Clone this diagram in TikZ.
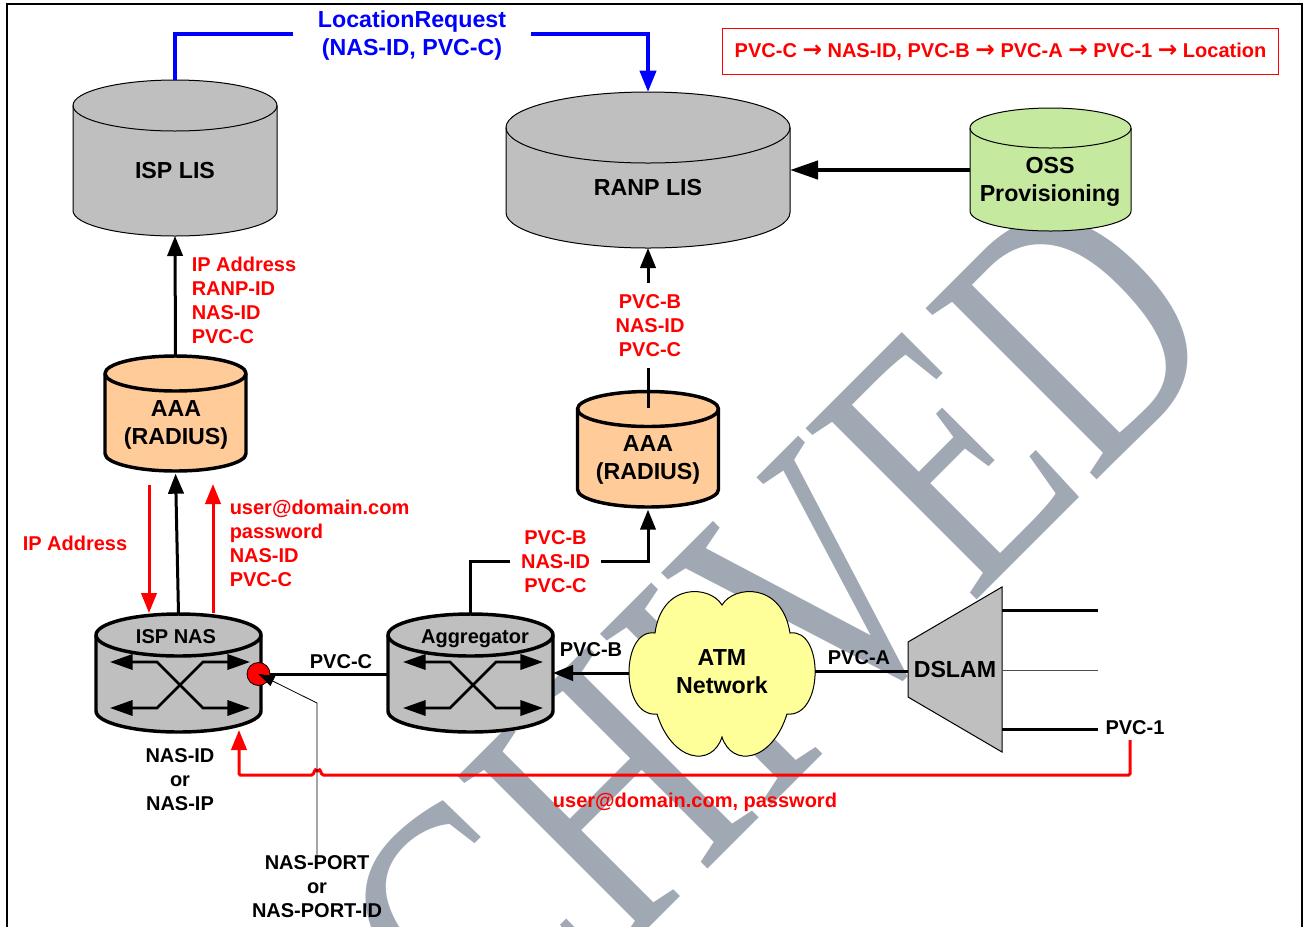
\documentclass[tikz,border=0pt]{standalone}
\usepackage{fontspec}
\setmainfont{Liberation Sans}
\newfontfamily\wmfont{Liberation Serif}
\newfontfamily\arrowfont{DejaVu Sans Bold}
\usetikzlibrary{arrows.meta}
\definecolor{dbgray}{HTML}{BFBFBF}
\definecolor{dborange}{HTML}{FFCC99}
\definecolor{dbgreen}{HTML}{C6E9A0}
\definecolor{atmyellow}{HTML}{FFFF99}
\definecolor{wmgray}{HTML}{A0A8B3}
\tikzset{
    dbthin/.style={draw=black, line width=0.75pt, fill=dbgray},
    dbthick/.style={draw=black, line width=2.6pt, fill=dbgray},
    txtbig/.style={font={\fontsize{17.4}{21}\selectfont\bfseries}, align=center, inner sep=0pt},
    txtsmall/.style={font={\fontsize{15}{18}\selectfont\bfseries}, align=center, inner sep=0pt},
    txtred/.style={txtsmall, text=red},
    txtredleft/.style={txtred, align=left, anchor=west},
    wmtext/.style={transform shape, anchor=base west, inner sep=0pt, text=wmgray,
                   font={\fontsize{264}{264}\selectfont\wmfont}},
    wline/.style={line width=2.25pt, draw=black},
    arrow/.style={-{Triangle[length=15pt,width=11.5pt]}, line width=2.25pt, draw=black},
    redarrow/.style={arrow, draw=red},
    bluearrow/.style={-{Triangle[length=16pt,width=12pt]}, line width=3pt, draw=blue},
    swline/.style={line width=1.9pt, {Triangle[length=17pt,width=11.5pt]}-{Triangle[length=17pt,width=11.5pt]}},
    crossx/.pic={
        \draw[swline] (-70,-23) -- (-23,-23) -- (23,23) -- (70,23);
        \draw[swline] (-70,23) -- (-23,23) -- (23,-23) -- (70,-23);
    },
}
% style, name, centre x, top y, bottom y, x radius, y radius (pixels)
\newcommand{\dbcylinder}[7]{%
    \pgfmathsetmacro{\rxpt}{#6*0.75}%
    \pgfmathsetmacro{\rypt}{#7*0.75}%
    \pgfmathsetmacro{\wpt}{#6*1.5}%
    \pgfmathsetmacro{\hpt}{(#5-(#4))*0.75}%
    \draw[#1] (#3-#6,#4+#7) arc[start angle=180, end angle=0, x radius=\rxpt pt, y radius=\rypt pt]
        -- (#3+#6,#5-#7) arc[start angle=0, end angle=-180, x radius=\rxpt pt, y radius=\rypt pt] -- cycle;
    \draw[#1, fill=none] (#3-#6,#4+#7) arc[start angle=180, end angle=360, x radius=\rxpt pt, y radius=\rypt pt];
    \node[inner sep=0pt, outer sep=0pt, minimum width=\wpt pt, minimum height=\hpt pt] (#2) at (#3,{(#4+#5)/2}) {};
}
\begin{document}
\begin{tikzpicture}[x=0.75pt, y=-0.75pt]
    \useasboundingbox (0,0) rectangle (1304,926);
    \clip (0,0) rectangle (1304,926);
    % watermark
    \begin{scope}[shift={(220.5,1356.5)}, rotate=45, xscale=0.787, yscale=1.05]
        \node[wmtext] (wm) at (0,0) {ARCHIVED};
    \end{scope}
    \draw[line width=1.5pt] (7,940) -- (7,3.5) -- (1302,3.5) -- (1302,940);
    % databases
    \dbcylinder{dbthin}{isplis}{175}{80}{236}{102}{25.5}
    \dbcylinder{dbthin}{ranplis}{648}{92}{248}{142}{35.5}
    \dbcylinder{dbthin, fill=dbgreen}{oss}{1050.5}{108}{231}{80.5}{20}
    \dbcylinder{dbthick, fill=dborange}{aaaone}{175.5}{356}{471}{70.5}{17.5}
    \dbcylinder{dbthick, fill=dborange}{aaatwo}{648}{391.5}{507}{70.5}{17.5}
    \dbcylinder{dbthick}{ispnas}{178.5}{614}{732}{82.5}{21}
    \dbcylinder{dbthick}{aggr}{470.5}{614}{732}{82.5}{21}
    \pic at (180,685) {crossx};
    \pic at (473,685) {crossx};
    \node[txtbig] (isplistxt) at (175,171) {ISP LIS};
    \node[txtbig] (ranplistxt) at (648,188) {RANP LIS};
    \node[txtbig] (osstxt) at (1050,182) {OSS\\Provisioning};
    \node[txtbig] (aaaonetxt) at (176,425) {AAA\\(RADIUS)};
    \node[txtbig] (aaatwotxt) at (648,460) {AAA\\(RADIUS)};
    \node[txtsmall] (ispnastxt) at (176,637) {ISP NAS};
    \node[txtsmall] (aggrtxt) at (475,639) {Aggregator};
    % atm cloud and dslam
    \draw[fill=atmyellow, line width=0.75pt] (722,605)
        .. controls (710,585) and (662,582) .. (655,633)
        .. controls (620,628) and (620,718) .. (657,714)
        .. controls (672,762) and (712,768) .. (722,737)
        .. controls (732,768) and (772,762) .. (787,714)
        .. controls (824,718) and (824,628) .. (790,633)
        .. controls (782,582) and (734,585) .. (722,605) -- cycle;
    \node[txtbig, minimum width=139.5pt, minimum height=124pt] (atm) at (722,672) {ATM\\Network};
    \draw[fill=dbgray, line width=0.75pt] (908,642) -- (1002,587) -- (1002,752) -- (908,697) -- cycle;
    \node[txtbig, minimum width=70.5pt] (dslam) at (955,670) {DSLAM};
    \coordinate (portone) at (1098,610);
    \coordinate (porttwo) at (1098,670);
    \coordinate (portthree) at (1098,729);
    \draw[wline] (dslam.east |- portone) -- (portone);
    \draw[line width=0.6pt, draw=black!70] (dslam.east |- porttwo) -- (porttwo);
    \draw[wline] (dslam.east |- portthree) -- (portthree);
    \node[txtsmall] (pvcone) at (1135,728) {PVC-1};
    % connectors
    \node[circle, draw=black, fill=red, line width=0.6pt, minimum size=17.25pt, inner sep=0pt] (dot) at (258.5,674) {};
    \draw[wline] (dot.east) -- (dot.east -| aggr.west);
    \node[txtsmall] (pvcc) at (341,662) {PVC-C};
    \draw[arrow] (atm.west |- 0,673) -- (aggr.east |- 0,673);
    \node[txtsmall] (pvcb) at (591,650) {PVC-B};
    \draw[wline] (atm.east |- 0,671) -- (dslam.west |- 0,671);
    \node[txtsmall] (pvca) at (859,658) {PVC-A};
    \draw[arrow] (aaaone.north) -- (isplis.south);
    \draw[arrow, shorten >=2pt] (ispnas.north) -- (aaaone.south);
    \draw[redarrow] (149,485) -- (149,613);
    \draw[redarrow] (213,613) -- (213,484);
    \node[txtredleft] (ipaddr) at (22.5,543) {IP Address};
    \node[txtredleft] (ipinfo) at (191.5,300) {IP Address\\RANP-ID\\NAS-ID\\PVC-C};
    \node[txtredleft] (userinfo) at (229.5,543) {user@domain.com\\password\\NAS-ID\\PVC-C};
    \draw[arrow] (aaatwo.center |- 0,408) -- (ranplis.south);
    \node[txtred, fill=white, minimum height=63.75pt] (ranpinfo) at (650,325.5) {PVC-B\\NAS-ID\\PVC-C};
    \draw[arrow, shorten >=2pt] (aggr.north) -- (aggr.north |- 0,561) -- (aaatwo.south |- 0,561) -- (aaatwo.south);
    \node[txtred, fill=white, minimum width=68pt] (agginfo) at (555.5,562) {PVC-B\\NAS-ID\\PVC-C};
    \draw[bluearrow] (isplis.north) -- (isplis.north |- 0,34) -- (ranplis.north |- 0,34) -- (ranplis.north);
    \node[fill=white, text=blue, font={\fontsize{17.4}{21}\selectfont\bfseries}, align=center,
          inner sep=0pt, minimum width=178pt] (locreq) at (412,35) {LocationRequest\\(NAS-ID, PVC-C)};
    \draw[-{Triangle[length=21pt,width=13.5pt]}, line width=3.2pt] (oss.west |- 0,170) -- (ranplis.east |- 0,170);
    % user credentials path with the jump over the port line
    \coordinate (credstart) at (1130,740);
    \coordinate (credend) at (239,730);
    \draw[redarrow, rounded corners=1pt] (credstart) -- (1130,775) -- (322,775)
        .. controls (320,769) and (319,769) .. (317.5,772)
        .. controls (316,769) and (315,769) .. (313,775) -- (239,775) -- (credend);
    \node[txtred] (userpass) at (695,802) {user@domain.com, password};
    % port arrow
    \node[txtsmall] (nasid) at (180,780) {NAS-ID\\or\\NAS-IP};
    \node[txtsmall] (nasport) at (317,887) {NAS-PORT\\or\\NAS-PORT-ID};
    \draw[-{Triangle[length=12pt,width=8pt]}, line width=0.6pt] (nasport.north) -- (317,703) -- (dot.center);
    % route box
    \newcommand{\chevron}{{\arrowfont\fontsize{17.5}{18}\selectfont →}}
    \node[draw=red, line width=0.9pt, minimum width=417.5pt, minimum height=35pt, inner sep=0pt,
          text=red, font={\fontsize{15}{18}\selectfont\bfseries}] (route) at (1000.5,51.5)
        {\raisebox{-0.75pt}{PVC-C \chevron{} NAS-ID, PVC-B \chevron{} PVC-A \chevron{} PVC-1 \chevron{} Location}};
\end{tikzpicture}
\end{document}
